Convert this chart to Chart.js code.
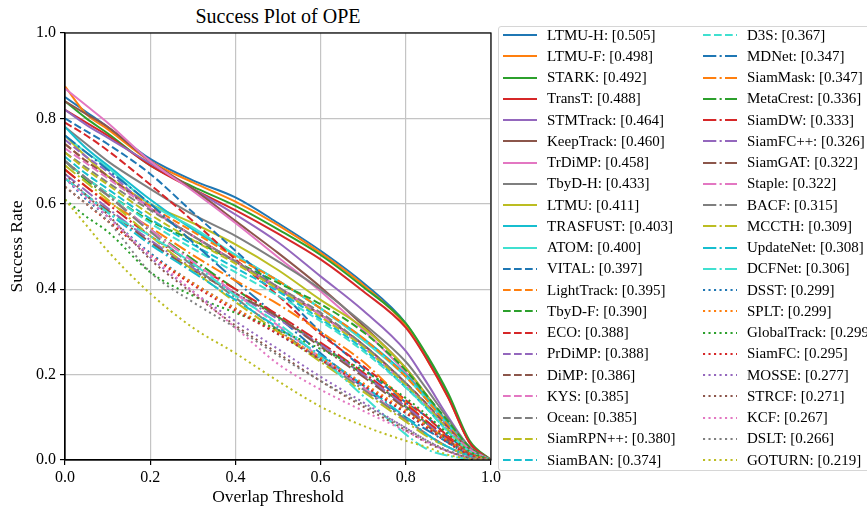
<!DOCTYPE html>
<html>
<head>
<meta charset="utf-8">
<script src="https://cdn.jsdelivr.net/npm/chart.js@4/dist/chart.umd.min.js"></script>
<style>
  body { margin:0; width:867px; height:512px; overflow:hidden; background:#fff; position:relative;
         font-family:"Liberation Serif","DejaVu Serif",serif; }
  #titulo { position:absolute; left:65px; width:426px; top:3px; text-align:center; font-size:20px; line-height:26px; color:#000; }
  #grafico { position:absolute; left:0; top:0; width:504px; height:512px; }
  #leyenda { position:absolute; left:498px; top:26px; width:420px; height:443px; border:1px solid #d6d6d6; border-radius:3px; background:#fff; z-index:2; }
  .fila { position:absolute; height:20px; display:flex; align-items:center; font-size:15px; white-space:nowrap; color:#000; }
  .fila svg { margin-right:10px; }
</style>
</head>
<body>
<div id="titulo">Success Plot of OPE</div>
<div id="grafico"><canvas id="myChart"></canvas></div>
<div id="leyenda"></div>
<script>
// umbrales de solapamiento (eje x)
const thresholds = [0, 0.05, 0.1, 0.2, 0.3, 0.4, 0.5, 0.6, 0.7, 0.8, 0.85, 0.9, 0.95, 1.0];
const xTicks = [0, 0.2, 0.4, 0.6, 0.8, 1.0];
const yTicks = [0, 0.2, 0.4, 0.6, 0.8, 1.0];

// tasa de exito de cada tracker
const ltmuH      = [.85,.815,.78,.705,.655,.615,.555,.49,.415,.32,.24,.15,.04,0];
const ltmuF      = [.875,.81,.775,.70,.65,.605,.55,.485,.41,.315,.235,.145,.04,0];
const stark      = [.84,.80,.765,.69,.64,.595,.54,.48,.405,.32,.245,.155,.045,0];
const transT     = [.82,.79,.76,.69,.635,.585,.53,.47,.395,.31,.235,.145,.04,0];
const stmTrack   = [.82,.785,.755,.695,.635,.575,.51,.43,.35,.255,.18,.10,.03,0];
const keepTrack  = [.84,.81,.78,.70,.635,.56,.485,.405,.315,.215,.15,.085,.025,0];
const trDiMP     = [.87,.83,.79,.70,.63,.555,.475,.395,.305,.205,.145,.08,.025,0];
const tbydH      = [.78,.74,.70,.635,.575,.525,.465,.40,.32,.23,.165,.095,.03,0];
const ltmu       = [.76,.71,.665,.60,.555,.505,.445,.375,.31,.215,.15,.085,.025,0];
const trasfust   = [.78,.73,.69,.61,.54,.48,.42,.355,.285,.20,.145,.085,.025,0];
const atom       = [.76,.72,.685,.60,.545,.48,.42,.355,.28,.195,.14,.08,.025,0];
const vital      = [.80,.77,.74,.67,.58,.49,.40,.30,.215,.135,.10,.055,.02,0];
const lightTrack = [.74,.70,.665,.595,.535,.475,.42,.355,.285,.195,.14,.08,.025,0];
const tbydF      = [.70,.66,.625,.56,.515,.465,.415,.365,.30,.21,.15,.09,.03,0];
const eco        = [.79,.76,.725,.645,.56,.47,.385,.295,.22,.14,.10,.055,.02,0];
const prDiMP     = [.75,.71,.675,.59,.525,.465,.40,.34,.27,.18,.13,.075,.025,0];
const diMP       = [.74,.70,.665,.59,.525,.465,.405,.34,.27,.18,.13,.075,.025,0];
const kys        = [.73,.695,.66,.59,.525,.465,.405,.34,.265,.175,.125,.07,.025,0];
const ocean      = [.72,.685,.65,.585,.525,.465,.405,.345,.27,.18,.125,.07,.02,0];
const siamRPNpp  = [.72,.68,.645,.575,.515,.46,.40,.335,.265,.175,.125,.07,.02,0];
const siamBAN    = [.71,.67,.635,.565,.505,.45,.395,.33,.26,.17,.12,.065,.02,0];
const d3s        = [.70,.66,.625,.555,.495,.44,.385,.325,.255,.17,.12,.065,.02,0];
const mdNet      = [.76,.72,.68,.60,.51,.42,.335,.25,.17,.10,.07,.04,.012,0];
const siamMask   = [.68,.64,.605,.545,.48,.42,.365,.30,.23,.135,.09,.05,.015,0];
const metaCrest  = [.70,.655,.62,.54,.47,.40,.335,.27,.20,.125,.085,.045,.015,0];
const siamDW     = [.68,.64,.60,.525,.46,.40,.34,.275,.205,.13,.09,.05,.015,0];
const siamFCpp   = [.67,.63,.59,.515,.45,.39,.33,.27,.20,.125,.085,.045,.015,0];
const siamGAT    = [.66,.62,.585,.51,.445,.39,.335,.265,.195,.12,.08,.045,.015,0];
const staple     = [.70,.66,.62,.54,.465,.39,.315,.24,.17,.095,.06,.03,.01,0];
const bacf       = [.70,.66,.62,.535,.455,.38,.305,.235,.165,.095,.06,.03,.01,0];
const mccth      = [.69,.65,.61,.525,.445,.37,.30,.23,.16,.09,.055,.03,.01,0];
const updateNet  = [.66,.62,.58,.505,.44,.375,.31,.245,.175,.10,.06,.03,.01,0];
const dcfNet     = [.66,.62,.58,.525,.46,.385,.32,.24,.15,.06,.025,.01,.003,0];
const dsst       = [.66,.61,.57,.485,.415,.355,.295,.235,.175,.11,.075,.04,.012,0];
const splt       = [.64,.60,.56,.48,.415,.355,.30,.24,.18,.115,.08,.045,.015,0];
const globalTrack= [.61,.57,.535,.44,.385,.345,.305,.26,.21,.145,.105,.06,.02,0];
const siamFC     = [.64,.60,.56,.48,.41,.35,.295,.235,.175,.11,.075,.04,.012,0];
const mosse      = [.66,.615,.57,.475,.395,.325,.26,.195,.135,.075,.045,.02,.005,0];
const strcf      = [.67,.62,.575,.47,.39,.315,.25,.185,.125,.07,.04,.02,.005,0];
const kcf        = [.66,.615,.57,.48,.395,.31,.225,.165,.115,.068,.042,.02,.005,0];
const dslt       = [.64,.60,.56,.44,.37,.31,.245,.185,.13,.075,.045,.022,.006,0];
const goturn     = [.61,.55,.49,.39,.31,.25,.185,.125,.08,.045,.03,.012,.003,0];

const trackers = ['LTMU-H','LTMU-F','STARK','TransT','STMTrack','KeepTrack','TrDiMP','TbyD-H','LTMU','TRASFUST',
  'ATOM','VITAL','LightTrack','TbyD-F','ECO','PrDiMP','DiMP','KYS','Ocean','SiamRPN++','SiamBAN',
  'D3S','MDNet','SiamMask','MetaCrest','SiamDW','SiamFC++','SiamGAT','Staple','BACF','MCCTH','UpdateNet',
  'DCFNet','DSST','SPLT','GlobalTrack','SiamFC','MOSSE','STRCF','KCF','DSLT','GOTURN'];
const aucScores = [0.505,0.498,0.492,0.488,0.464,0.460,0.458,0.433,0.411,0.403,
  0.400,0.397,0.395,0.390,0.388,0.388,0.386,0.385,0.385,0.380,0.374,
  0.367,0.347,0.347,0.336,0.333,0.326,0.322,0.322,0.315,0.309,0.308,
  0.306,0.299,0.299,0.299,0.295,0.277,0.271,0.267,0.266,0.219];
const curvas = [ltmuH,ltmuF,stark,transT,stmTrack,keepTrack,trDiMP,tbydH,ltmu,trasfust,
  atom,vital,lightTrack,tbydF,eco,prDiMP,diMP,kys,ocean,siamRPNpp,siamBAN,
  d3s,mdNet,siamMask,metaCrest,siamDW,siamFCpp,siamGAT,staple,bacf,mccth,updateNet,
  dcfNet,dsst,splt,globalTrack,siamFC,mosse,strcf,kcf,dslt,goturn];

// colores y estilos de linea (ciclo de 11 colores, luego cambia el estilo)
const colores = ['#1f77b4','#ff7f0e','#2ca02c','#d62728','#9467bd','#8c564b','#e377c2','#7f7f7f','#bcbd22','#17becf','#40e0d0'];
const estilos = [[], [7.7,3.3], [13.3,3.3,2.1,3.3], [2.1,3.4]];

const datasets = curvas.map((vals, i) => ({
    label: trackers[i],
    data: vals.map((v, j) => ({x: thresholds[j], y: v})),
    borderColor: colores[i % 11],
    backgroundColor: colores[i % 11],
    borderDash: estilos[Math.floor(i / 11)],
    borderWidth: 2,
    pointRadius: 0,
    fill: false,
    cubicInterpolationMode: 'monotone',
    order: curvas.length - i
}));

// marco completo del grafico (arriba y derecha tambien)
const marco = {
    id: 'marco',
    afterDraw(chart) {
        const {ctx, chartArea} = chart;
        ctx.save();
        ctx.strokeStyle = '#000';
        ctx.lineWidth = 1.2;
        ctx.strokeRect(chartArea.left, chartArea.top, chartArea.right - chartArea.left, chartArea.bottom - chartArea.top);
        ctx.restore();
    }
};

const fuente = '"Liberation Serif", "DejaVu Serif", serif';
const ctx = document.getElementById('myChart');
new Chart(ctx, {
    type: 'line',
    data: { datasets: datasets },
    options: {
        responsive: true,
        maintainAspectRatio: false,
        animation: false,
        layout: { padding: { top: 33, right: 4, left: 0, bottom: 0 } },
        plugins: { legend: { display: false }, tooltip: { enabled: false } },
        scales: {
            x: {
                type: 'linear', min: 0, max: 1,
                afterFit: (s) => { s.height = 52; },
                afterBuildTicks: (s) => { s.ticks = xTicks.map(v => ({value: v})); },
                ticks: { font: { family: fuente, size: 16 }, color: '#000', padding: 3, maxRotation: 0,
                         callback: (v) => Number(v).toFixed(1) },
                grid: { color: '#c4c4c4', lineWidth: 1.2, tickLength: 5, tickColor: '#000', tickWidth: 1.2 },
                border: { display: true, color: '#000', width: 1.2 },
                title: { display: true, text: 'Overlap Threshold', color: '#000', font: { family: fuente, size: 17.5 }, padding: { top: 0, bottom: 4 } }
            },
            y: {
                type: 'linear', min: 0, max: 1,
                afterFit: (s) => { s.width = 65; },
                afterBuildTicks: (s) => { s.ticks = yTicks.map(v => ({value: v})); },
                ticks: { font: { family: fuente, size: 16 }, color: '#000', padding: 4,
                         callback: (v) => Number(v).toFixed(1) },
                grid: { color: '#c4c4c4', lineWidth: 1.2, tickLength: 5, tickColor: '#000', tickWidth: 1.2 },
                border: { display: true, color: '#000', width: 1.2 },
                title: { display: true, text: 'Success Rate', color: '#000', font: { family: fuente, size: 17.5 }, padding: { top: 7, bottom: 0 } }
            }
        }
    },
    plugins: [marco]
});

// leyenda en dos columnas, hecha a mano para mostrar los estilos de linea
const leyenda = document.getElementById('leyenda');
trackers.forEach((nombre, i) => {
    const col = Math.floor(i / 21);
    const fila = i % 21;
    const div = document.createElement('div');
    div.className = 'fila';
    div.style.top = (8 + fila * 21.25 - 10) + 'px';
    div.style.left = (col === 0 ? 4 : 204) + 'px';
    const dash = estilos[Math.floor(i / 11)].join(',');
    div.innerHTML = `<svg width="34" height="8"><line x1="0" y1="4" x2="34" y2="4" stroke="${colores[i % 11]}" stroke-width="2.1" ${dash ? `stroke-dasharray="${dash}"` : ''}/></svg>` +
        `<span>${nombre}: [${aucScores[i].toFixed(3)}]</span>`;
    leyenda.appendChild(div);
});
</script>
</body>
</html>
